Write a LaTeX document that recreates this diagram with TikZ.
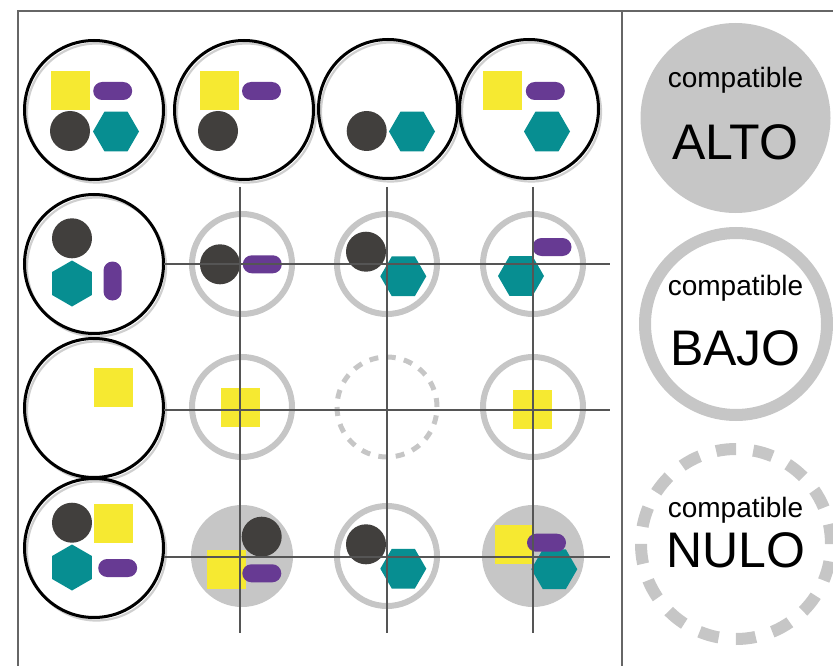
\documentclass[tikz,border=0pt]{standalone}
\usepackage{fontspec}
\setmainfont{Liberation Sans}
\usetikzlibrary{shapes.geometric}
\definecolor{myyellow}{HTML}{F6E931}
\definecolor{mypurple}{HTML}{673A93}
\definecolor{mydark}{HTML}{413F3D}
\definecolor{myteal}{HTML}{078E91}
\definecolor{ringgray}{HTML}{C6C6C6}
\definecolor{shadowgray}{HTML}{CFCFCF}
\definecolor{gridc}{HTML}{555555}
\definecolor{framec}{HTML}{666666}
\tikzset{
  bigc/.style={circle, draw=black, line width=3pt, minimum size=139pt, inner sep=0pt},
  shadowc/.style={circle, draw=shadowgray, line width=2.2pt, minimum size=139pt, inner sep=0pt},
  ringc/.style={circle, draw=ringgray, line width=6pt, minimum size=100pt, inner sep=0pt},
  dashc/.style={circle, draw=ringgray, line width=5pt, minimum size=100pt, inner sep=0pt, dash pattern=on 9pt off 8.45pt},
  fillc/.style={circle, fill=ringgray, minimum size=102pt, inner sep=0pt},
  sq/.style={rectangle, fill=myyellow, minimum size=39pt, inner sep=0pt},
  pill/.style={rectangle, rounded corners=9pt, fill=mypurple, minimum width=39pt, minimum height=18pt, inner sep=0pt},
  vpill/.style={rectangle, rounded corners=9pt, fill=mypurple, minimum width=18pt, minimum height=39pt, inner sep=0pt},
  dot/.style={circle, fill=mydark, minimum size=40pt, inner sep=0pt},
  hexa/.style={regular polygon, regular polygon sides=6, fill=myteal, minimum size=46pt, inner sep=0pt},
  vhexa/.style={hexa, shape border rotate=90},
  gridl/.style={draw=gridc, line width=1.1pt},
  small/.style={font=\fontsize{28}{30}\selectfont, inner sep=0pt},
  big/.style={font=\fontsize{50}{52}\selectfont, inner sep=0pt},
}
\begin{document}
\begin{tikzpicture}[x=1pt,y=-1pt]
\useasboundingbox (0,0) rectangle (833,666);
% frame
\draw[framec, line width=1.5pt] (18,666) -- (18,11) -- (833,11);
\draw[framec, line width=1.5pt] (622,11) -- (622,666);

% big black circles with shadow
\foreach \n/\x/\y in {a1/94/110, a2/244/110, a3/388/109, a4/529/109, b1/94/264, c1/94/408, d1/94/548}{
  \node[shadowc] (s\n) at (\x+2.5,\y+3) {};
  \node[bigc] (\n) at (\x,\y) {};
}

% gray cells
\node[ringc] (b2) at (242,264) {};
\node[ringc] (b3) at (387,264) {};
\node[ringc] (b4) at (533,264) {};
\node[ringc] (c2) at (242,407) {};
\node[dashc] (c3) at (387,407) {};
\node[ringc] (c4) at (533,407) {};
\node[fillc] (d2) at (242,556) {};
\node[ringc] (d3) at (387,556) {};
\node[fillc] (d4) at (533,556) {};

% row 1
\node[sq] (a1sq) at (70.5,90.5) {};
\node[pill] (a1pi) at (112.7,91) {};
\node[dot] (a1do) at (70,131) {};
\node[hexa] (a1hx) at (116,131.5) {};

\node[sq] (a2sq) at (219.5,90.5) {};
\node[pill] (a2pi) at (261.5,91) {};
\node[dot] (a2do) at (218,131) {};

\node[dot] (a3do) at (366.7,131) {};
\node[hexa] (a3hx) at (412,131.5) {};

\node[sq] (a4sq) at (502.5,90.5) {};
\node[pill] (a4pi) at (545.3,91) {};
\node[hexa] (a4hx) at (547,131.5) {};

% row 2
\node[dot] (b1do) at (72,238.3) {};
\node[vhexa] (b1hx) at (72,283.5) {};
\node[vpill] (b1pi) at (112.5,281) {};

\node[dot] (b2do) at (220,264.3) {};
\node[pill] (b2pi) at (262.3,264.3) {};

\node[dot] (b3do) at (366,251.7) {};
\node[hexa] (b3hx) at (403.3,276.3) {};

\node[pill] (b4pi) at (552,247) {};
\node[hexa] (b4hx) at (521,276) {};

% row 3
\node[sq] (c1sq) at (113.5,387.5) {};
\node[sq] (c2sq) at (240.5,407.5) {};
\node[sq] (c4sq) at (532.5,409.5) {};

% row 4
\node[dot] (d1do) at (72,522.7) {};
\node[sq] (d1sq) at (113.5,523.3) {};
\node[vhexa] (d1hx) at (72,567.5) {};
\node[pill] (d1pi) at (117.7,568) {};

\node[sq] (d2sq) at (226.5,569.3) {};
\node[dot] (d2do) at (261.7,536.7) {};
\node[pill] (d2pi) at (261.8,573.3) {};

\node[dot] (d3do) at (366,544.3) {};
\node[hexa] (d3hx) at (403.3,568.7) {};

\node[sq] (d4sq) at (514.2,544.3) {};
\node[hexa] (d4hx) at (554.3,569.2) {};
\node[pill] (d4pi) at (546.5,542.7) {};

% grid lines
\coordinate (v1t) at (240,187); \coordinate (v1b) at (240,633);
\coordinate (v2t) at (387,187); \coordinate (v2b) at (387,633);
\coordinate (v3t) at (533,187); \coordinate (v3b) at (533,633);
\coordinate (h1l) at (164,264); \coordinate (h1r) at (610,264);
\coordinate (h2l) at (164,410); \coordinate (h2r) at (610,410);
\coordinate (h3l) at (164,557); \coordinate (h3r) at (610,557);
\draw[gridl] (v1t) -- (v1b);
\draw[gridl] (v2t) -- (v2b);
\draw[gridl] (v3t) -- (v3b);
\draw[gridl] (h1l) -- (h1r);
\draw[gridl] (h2l) -- (h2r);
\draw[gridl] (h3l) -- (h3r);

% legend
\node[circle, fill=ringgray, minimum size=190pt, inner sep=0pt] (alto) at (735.5,118) {};
\node[small] (altot) at (735.5,80) {compatible};
\node[big] (altob) at (735.5,142) {ALTO};

\node[circle, draw=ringgray, line width=12pt, minimum size=182pt, inner sep=0pt] (bajo) at (736,324) {};
\node[small] (bajot) at (735.5,288) {compatible};
\node[big] (bajob) at (735.5,348) {BAJO};

\node[circle, draw=ringgray, line width=12pt, minimum size=190pt, inner sep=0pt, dash pattern=on 20pt off 17.3pt] (nulo) at (736,544) {};
\node[small] (nulot) at (735.5,510) {compatible};
\node[big] (nulob) at (735.5,550) {NULO};
\end{tikzpicture}
\end{document}
